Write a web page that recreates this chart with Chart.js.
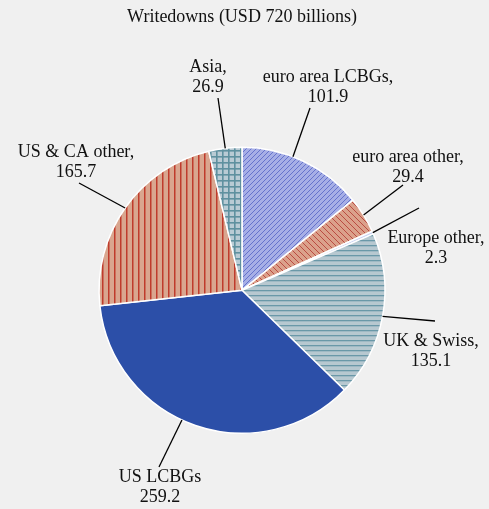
<!DOCTYPE html>
<html>
<head>
<meta charset="utf-8">
<script src="https://cdn.jsdelivr.net/npm/chart.js@4/dist/chart.umd.min.js"></script>
<style>
  html, body { margin: 0; padding: 0; background: #f0f0f0; }
  #wrap { width: 489px; height: 509px; }
</style>
</head>
<body>
<div id="wrap"><canvas id="pieChart" width="489" height="509"></canvas></div>
<script>
// Writedowns by region, USD billions
const categories = ['euro area LCBGs', 'euro area other', 'Europe other', 'UK & Swiss', 'US LCBGs', 'US & CA other', 'Asia'];
const values = [101.9, 29.4, 2.3, 135.1, 259.2, 165.7, 26.9];
const labelNames = ['euro area LCBGs,', 'euro area other,', 'Europe other,', 'UK & Swiss,', 'US LCBGs', 'US & CA other,', 'Asia,'];
const chartTitle = 'Writedowns (USD 720 billions)';

const FONT = '"Liberation Serif", "Times New Roman", serif';

// small tiles used as fill patterns
function makePattern(size, base, line, draw) {
  const c = document.createElement('canvas');
  c.width = size; c.height = size;
  const g = c.getContext('2d');
  g.fillStyle = base;
  g.fillRect(0, 0, size, size);
  g.strokeStyle = line;
  g.fillStyle = line;
  draw(g, size);
  return g.createPattern(c, 'repeat');
}

const fills = [
  // diagonal "/" blue
  makePattern(5, '#a7afe6', '#5d6cc8', (g, s) => {
    g.lineWidth = 0.9;
    g.beginPath();
    g.moveTo(-1, s + 1); g.lineTo(s + 1, -1);
    g.moveTo(-1, 1); g.lineTo(1, -1);
    g.moveTo(s - 1, s + 1); g.lineTo(s + 1, s - 1);
    g.stroke();
  }),
  // diagonal "\" red
  makePattern(6, '#dba18b', '#b5433a', (g, s) => {
    g.lineWidth = 0.9;
    g.beginPath();
    g.moveTo(-1, -1); g.lineTo(s + 1, s + 1);
    g.moveTo(s - 1, -1); g.lineTo(s + 1, 1);
    g.moveTo(-1, s - 1); g.lineTo(1, s + 1);
    g.stroke();
  }),
  '#c9d2f2',
  // horizontal lines
  makePattern(5, '#b7c8d0', '#6a98a8', (g, s) => {
    g.fillRect(0, 0, s, 1.3);
  }),
  '#2c4fa8',
  // vertical lines
  makePattern(6, '#d9a68f', '#bf3b2c', (g, s) => {
    g.fillRect(0, 0, 1.5, s);
  }),
  // grid
  makePattern(6, '#b9cbd4', '#5f919f', (g, s) => {
    g.fillRect(0, 0, 1.6, s);
    g.fillRect(0, 0, s, 1.6);
  })
];

// label text position (centre of first line) and outer end of the leader line;
// t = where along the slice the line touches the rim
const labelSpots = [
  { x: 328, y: 77, lx: 310, ly: 108, t: 0.41 },
  { x: 408, y: 157, lx: 403, ly: 185, t: 0.5 },
  { x: 436, y: 238, lx: 419, ly: 208, t: 0.5 },
  { x: 431, y: 341, lx: 435, ly: 321, t: 0.5 },
  { x: 160, y: 477, lx: 159, ly: 467, t: 0.545 },
  { x: 76, y: 152, lx: 79, ly: 183, t: 0.5 },
  { x: 208, y: 67, lx: 218, ly: 98, t: 0.5 }
];

const bgPlugin = {
  id: 'bg',
  beforeDraw(chart) {
    const ctx = chart.ctx;
    ctx.save();
    ctx.fillStyle = '#f0f0f0';
    ctx.fillRect(0, 0, chart.width, chart.height);
    ctx.restore();
  }
};

const calloutPlugin = {
  id: 'callouts',
  afterDatasetsDraw(chart) {
    const ctx = chart.ctx;
    const arcs = chart.getDatasetMeta(0).data;
    ctx.save();
    ctx.font = '18px ' + FONT;
    ctx.fillStyle = '#111';
    ctx.textAlign = 'center';
    ctx.textBaseline = 'middle';
    ctx.strokeStyle = '#000';
    ctx.lineWidth = 1.3;
    arcs.forEach((arc, i) => {
      const spot = labelSpots[i];
      const p = arc.getProps(['x', 'y', 'startAngle', 'endAngle', 'outerRadius'], true);
      const a = p.startAngle + (p.endAngle - p.startAngle) * spot.t;
      const ex = p.x + Math.cos(a) * p.outerRadius;
      const ey = p.y + Math.sin(a) * p.outerRadius;
      ctx.beginPath();
      ctx.moveTo(spot.lx, spot.ly);
      ctx.lineTo(ex, ey);
      ctx.stroke();
      ctx.fillText(labelNames[i], spot.x, spot.y);
      ctx.fillText(values[i].toFixed(1), spot.x, spot.y + 20);
    });
    ctx.restore();
  }
};

function initChart() {
  const ctx = document.getElementById('pieChart').getContext('2d');
  new Chart(ctx, {
    type: 'pie',
    data: {
      labels: categories,
      datasets: [{
        data: values,
        backgroundColor: fills,
        borderColor: '#ffffff',
        borderWidth: 1.5
      }]
    },
    options: {
      responsive: false,
      animation: false,
      layout: {
        padding: { left: 98, right: 103, top: 0, bottom: 75 }
      },
      plugins: {
        legend: { display: false },
        tooltip: { enabled: false },
        title: {
          display: true,
          text: chartTitle,
          color: '#111',
          font: { family: FONT, size: 18, weight: 'normal', lineHeight: 1.2 },
          padding: { top: 6, bottom: 119 }
        }
      }
    },
    plugins: [bgPlugin, calloutPlugin]
  });
}

document.addEventListener('DOMContentLoaded', initChart);
</script>
</body>
</html>
